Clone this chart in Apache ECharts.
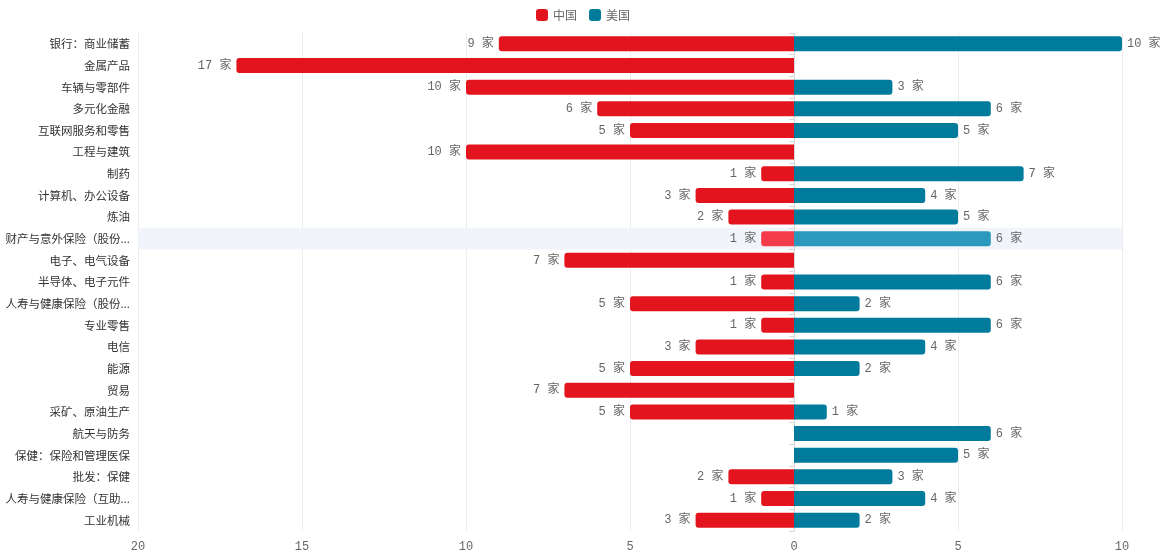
<!DOCTYPE html>
<html>
<head>
<meta charset="utf-8">
<script src="https://cdn.jsdelivr.net/npm/echarts@6/dist/echarts.min.js"></script>
<style>
  html, body { margin: 0; padding: 0; background: #fff; }
  #main { width: 1166px; height: 560px; }
</style>
</head>
<body>
<div id="main"></div>
<script>
var categories = [
    '银行：商业储蓄', '金属产品', '车辆与零部件', '多元化金融', '互联网服务和零售',
    '工程与建筑', '制药', '计算机、办公设备', '炼油', '财产与意外保险（股份制）',
    '电子、电气设备', '半导体、电子元件', '人寿与健康保险（股份制）', '专业零售', '电信',
    '能源', '贸易', '采矿、原油生产', '航天与防务', '保健：保险和管理医保',
    '批发：保健', '人寿与健康保险（互助制）', '工业机械'
];
var chinaCounts = [9, 17, 10, 6, 5, 10, 1, 3, 2, 1, 7, 1, 5, 1, 3, 5, 7, 5, 0, 0, 2, 1, 3];
var usCounts = [10, 0, 3, 6, 5, 0, 7, 4, 5, 6, 0, 6, 2, 6, 4, 2, 0, 1, 6, 5, 3, 4, 2];
var xTicks = [-20, -15, -10, -5, 0, 5, 10];

var monoFont = "'Liberation Mono', 'Noto Sans CJK SC', monospace";
var cjkFont = "'Noto Sans CJK SC', sans-serif";

var myChart = echarts.init(document.getElementById('main'));

function countLabel(p) {
    var v = Math.abs(p.value);
    return v === 0 ? '' : v + ' 家';
}

function barLabel(pos) {
    return {
        show: true,
        position: pos,
        distance: 5,
        color: '#666',
        fontFamily: monoFont,
        fontSize: 12,
        formatter: countLabel
    };
}

myChart.setOption({
    animation: false,
    color: ['#e4141e', '#007b9c'],
    tooltip: {
        trigger: 'axis',
        showContent: false,
        axisPointer: {
            type: 'shadow',
            z: 0,
            shadowStyle: { color: 'rgba(238,242,250,0.6)' }
        }
    },
    legend: {
        top: 4,
        left: 'center',
        icon: 'roundRect',
        itemWidth: 12,
        itemHeight: 12,
        itemGap: 12,
        textStyle: { color: '#666', fontSize: 12, fontFamily: cjkFont },
        data: ['中国', '美国']
    },
    grid: { left: 138, right: 44, top: 33, bottom: 29 },
    xAxis: {
        type: 'value',
        min: xTicks[0],
        max: xTicks[xTicks.length - 1],
        interval: 5,
        axisLine: { show: false },
        axisTick: { show: false },
        splitLine: { lineStyle: { color: '#ececec' } },
        axisLabel: {
            color: '#666',
            fontFamily: monoFont,
            fontSize: 12,
            margin: 10,
            formatter: function (v) { return Math.abs(v); }
        }
    },
    yAxis: [
        {
            type: 'category',
            inverse: true,
            position: 'left',
            data: categories,
            axisLine: { show: false, onZero: false },
            axisTick: { show: false },
            axisLabel: {
                color: '#333',
                fontFamily: cjkFont,
                fontSize: 11.5,
                margin: 8,
                width: 128,
                overflow: 'truncate',
                ellipsis: '...'
            }
        },
        {
            type: 'category',
            inverse: true,
            position: 'left',
            data: categories,
            axisLine: { show: true, onZero: true, lineStyle: { color: '#d6d6d6' } },
            axisTick: { show: true, length: 5, lineStyle: { color: '#d6d6d6' } },
            axisLabel: { show: false }
        }
    ],
    series: [
        {
            name: '中国',
            type: 'bar',
            stack: 'total',
            barWidth: 15,
            z: 3,
            data: chinaCounts.map(function (v) { return -v; }),
            itemStyle: { borderRadius: [3, 0, 0, 3] },
            emphasis: { itemStyle: { color: '#f43b4a' } },
            label: barLabel('left')
        },
        {
            name: '美国',
            type: 'bar',
            stack: 'total',
            barWidth: 15,
            z: 3,
            data: usCounts,
            itemStyle: { borderRadius: [0, 3, 3, 0] },
            emphasis: { itemStyle: { color: '#2b99bd' } },
            label: barLabel('right')
        }
    ]
});

// the reference shows the hover state on 财产与意外保险
myChart.dispatchAction({ type: 'showTip', seriesIndex: 0, dataIndex: 9 });
</script>
</body>
</html>
